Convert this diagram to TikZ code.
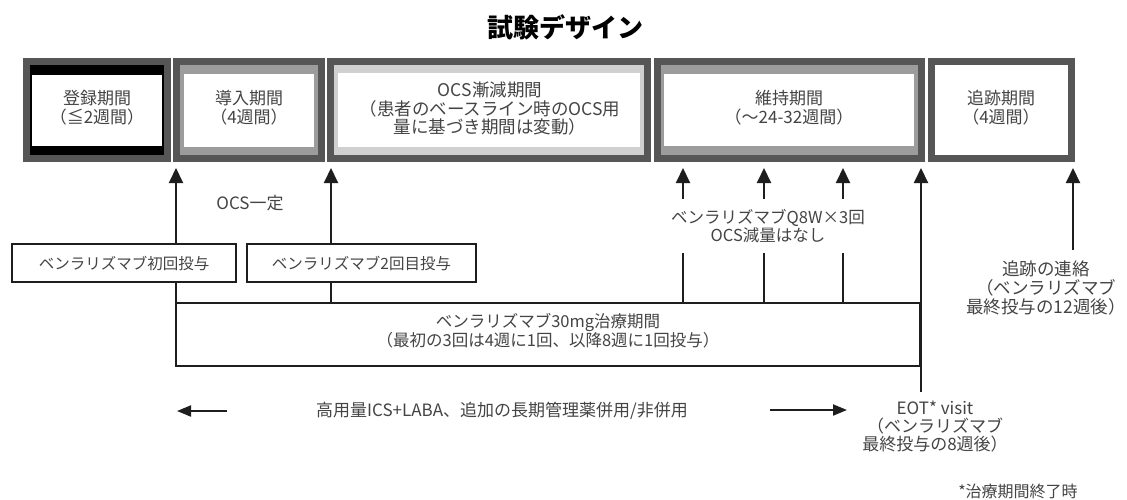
\documentclass[tikz,border=0pt]{standalone}
\usepackage{fontspec}
\setmainfont{Noto Sans CJK JP}
\usetikzlibrary{arrows.meta}
\definecolor{frame}{HTML}{565656}
\definecolor{bandA}{HTML}{000000}
\definecolor{bandB}{HTML}{9C9C9C}
\definecolor{bandC}{HTML}{D0D0D0}
\definecolor{txt}{HTML}{444444}
\definecolor{ink}{HTML}{1E1E1E}
\begin{document}
\begin{tikzpicture}[x=1pt,y=-1pt,
  lab/.style={text=txt, font=\fontsize{17}{19}\selectfont, align=center, inner sep=0pt},
  dose/.style={draw=ink, line width=1.6pt, fill=white, text=txt, font=\fontsize{15.5}{18}\selectfont, inner sep=0pt, outer sep=0pt},
  upar/.style={draw=ink, line width=2pt, -{Triangle[length=15pt,width=14pt]}},
  harr/.style={draw=ink, line width=2pt, -{Triangle[length=14pt,width=11pt]}},
  thinbox/.style={draw=ink, line width=1.6pt, inner sep=0pt, outer sep=0pt}
]
\useasboundingbox (0,0) rectangle (1127,499);
\fill[white] (0,0) rectangle (1127,499);

% title
\node[font=\fontsize{26}{30}\selectfont\bfseries, text=black] (title) at (565,27) {試験デザイン};

% phase boxes
\fill[frame] (23,58) rectangle (171,162);
\fill[bandA] (30,65) rectangle (164,155);
\fill[white] (32,75) rectangle (162,146);
\node[lab] (p1) at (97,107.5) {登録期間\\（≦2週間）};

\fill[frame] (173,58) rectangle (325,162);
\fill[bandB] (180,65) rectangle (318,155);
\fill[white] (184,74) rectangle (314,147);
\node[lab] (p2) at (249,107.5) {導入期間\\（4週間）};

\fill[frame] (327,58) rectangle (651,162);
\fill[bandC] (334,65) rectangle (644,155);
\fill[white] (338,73) rectangle (640,147);
\node[lab, font=\fontsize{17.5}{18.5}\selectfont] (p3) at (490,108.5) {OCS漸減期間\\（患者のベースライン時のOCS用\\量に基づき期間は変動）};

\fill[frame] (654,58) rectangle (925,162);
\fill[bandB] (661,65) rectangle (918,155);
\fill[white] (664,74) rectangle (914,146);
\node[lab] (p4) at (789,108) {維持期間\\（～24-32週間）};

\fill[frame] (928,58) rectangle (1075,162);
\fill[white] (935,65) rectangle (1068,155);
\node[lab] (p5) at (1001,108) {追跡期間\\（4週間）};

% arrow tips
\coordinate (t1) at (176,168);
\coordinate (t2) at (331,168);
\coordinate (t3) at (683,168);
\coordinate (t4) at (764,168);
\coordinate (t5) at (843,168);
\coordinate (t6) at (921,168);
\coordinate (t7) at (1073,168);
\coordinate (e6) at (921,392);
\coordinate (e7) at (1073,250);

% treatment period box
\node[thinbox, minimum width=744pt, minimum height=63pt] (tr) at (548,334.5) {};
\node[lab, font=\fontsize{16.5}{19}\selectfont] (trt) at (548,331) {ベンラリズマブ30mg治療期間\\（最初の3回は4週に1回、以降8週に1回投与）};

% arrows
\draw[upar] (tr.south west) -- (t1);
\draw[upar] (tr.north -| t2) -- (t2);
\draw[upar] (tr.north -| t3) -- (t3);
\draw[upar] (tr.north -| t4) -- (t4);
\draw[upar] (tr.north -| t5) -- (t5);
\draw[upar] (e6) -- (t6);
\draw[upar] (e7) -- (t7);

% dose boxes
\node[dose, minimum width=224pt, minimum height=38pt] (d1) at (124,263) {ベンラリズマブ初回投与};
\node[dose, minimum width=229pt, minimum height=38pt] (d2) at (361.5,263) {ベンラリズマブ2回目投与};

\node[lab] (ocs) at (250,203) {OCS一定};

\node[lab, font=\fontsize{16.5}{16.5}\selectfont, fill=white, inner xsep=4pt, inner ysep=10pt] (q8) at (768,226) {ベンラリズマブQ8W×3回\\OCS減量はなし};

\node[lab, font=\fontsize{17.5}{19}\selectfont] (fu) at (1046,288) {追跡の連絡\\（ベンラリズマブ\\最終投与の12週後）};

% bottom row
\node[lab] (hd) at (502,411) {高用量ICS+LABA、追加の長期管理薬併用/非併用};
\coordinate (la1) at (227,411);
\coordinate (la2) at (177,411);
\coordinate (ra1) at (770,410);
\coordinate (ra2) at (847,410);
\draw[harr] (la1) -- (la2);
\draw[harr] (ra1) -- (ra2);

\node[lab, font=\fontsize{17}{18}\selectfont] (eot) at (935,427) {EOT* visit\\（ベンラリズマブ\\最終投与の8週後）};

\node[lab, font=\fontsize{16}{19}\selectfont] (fn) at (1018,491) {*治療期間終了時};
\end{tikzpicture}
\end{document}
